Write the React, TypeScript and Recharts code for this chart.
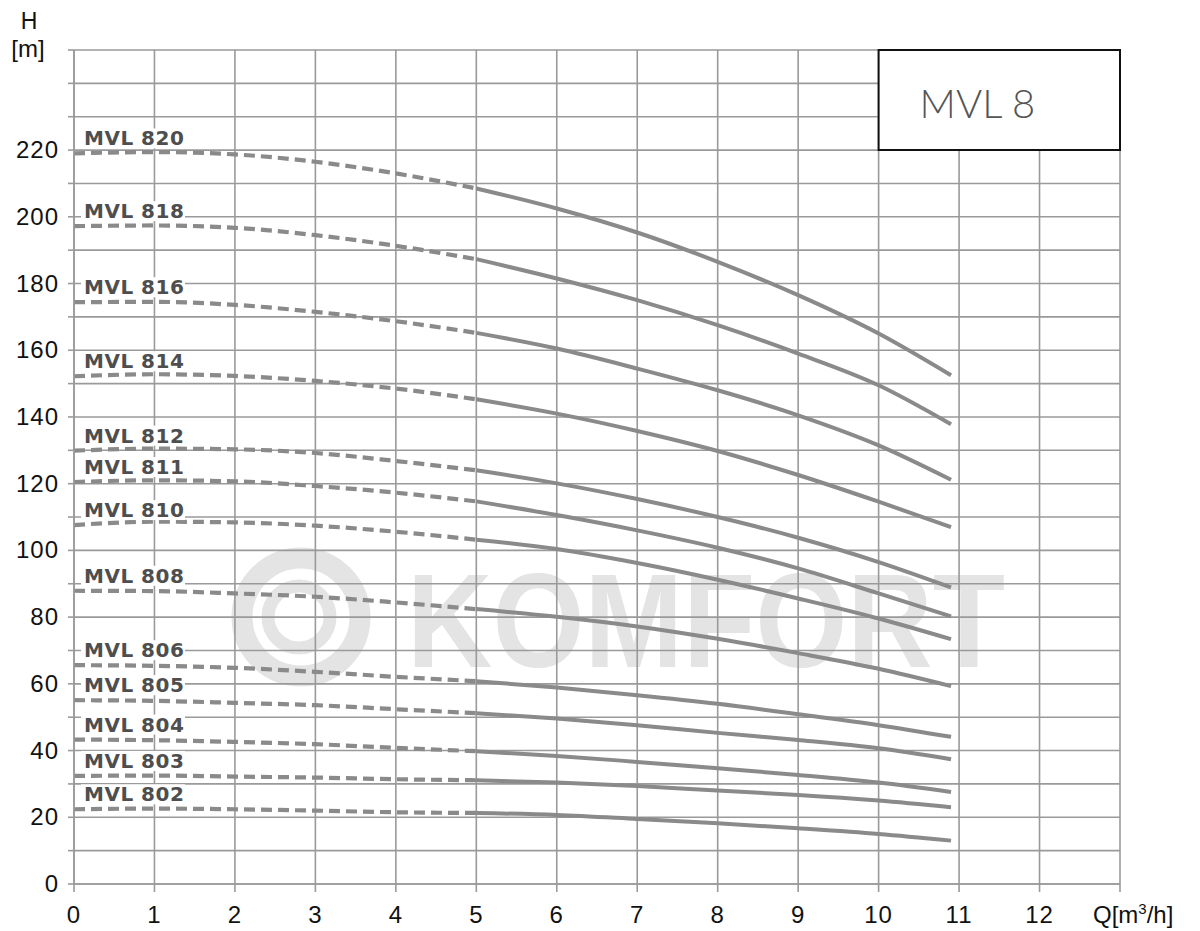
import React from "react"
import { CartesianGrid, LabelList, Line, LineChart, ReferenceArea, XAxis, YAxis } from "recharts"

// flow points [m3/h]: dashed part (outside working range) and solid part
const qDashed = [0, 1, 2, 3, 4, 5]
const qSolid = [5, 6, 7, 8, 9, 10, 10.9]

const pumpNames = ["MVL 820", "MVL 818", "MVL 816", "MVL 814", "MVL 812", "MVL 811", "MVL 810", "MVL 808", "MVL 806", "MVL 805", "MVL 804", "MVL 803", "MVL 802"]

// head H [m]
const mvl820Dashed = [219, 219.4, 218.7, 216.5, 213, 208.5]
const mvl820Solid = [208.5, 202.5, 195.3, 186.5, 176.5, 165, 152.5]
const mvl818Dashed = [197.2, 197.4, 196.7, 194.5, 191.3, 187.3]
const mvl818Solid = [187.3, 181.5, 175, 167.5, 159, 149.5, 137.8]
const mvl816Dashed = [174.4, 174.5, 173.6, 171.5, 168.7, 165.2]
const mvl816Solid = [165.2, 160.5, 154.5, 148, 140.5, 131.5, 121.2]
const mvl814Dashed = [152.2, 152.8, 152.3, 150.8, 148.5, 145.3]
const mvl814Solid = [145.3, 141, 135.8, 129.8, 122.6, 114.6, 107]
const mvl812Dashed = [129.9, 130.5, 130.3, 129.2, 126.8, 124]
const mvl812Solid = [124, 120.1, 115.4, 110, 103.8, 96.5, 88.9]
const mvl811Dashed = [120.5, 121, 120.7, 119.3, 117.3, 114.7]
const mvl811Solid = [114.7, 110.6, 106, 100.8, 94.6, 87.1, 80.2]
const mvl810Dashed = [107.6, 108.6, 108.4, 107.4, 105.6, 103.2]
const mvl810Solid = [103.2, 100.4, 96.2, 91.2, 85.6, 79.6, 73.4]
const mvl808Dashed = [87.9, 87.8, 87.1, 86.1, 84.4, 82.4]
const mvl808Solid = [82.4, 80.1, 77.2, 73.5, 69.2, 64.5, 59.3]
const mvl806Dashed = [65.6, 65.4, 64.8, 63.6, 62.1, 60.8]
const mvl806Solid = [60.8, 58.9, 56.6, 54, 50.9, 47.6, 44.1]
const mvl805Dashed = [55.1, 54.9, 54.3, 53.6, 52.4, 51.2]
const mvl805Solid = [51.2, 49.6, 47.6, 45.3, 43.2, 40.7, 37.4]
const mvl804Dashed = [43.3, 43.1, 42.6, 41.9, 40.8, 39.8]
const mvl804Solid = [39.8, 38.4, 36.6, 34.7, 32.7, 30.4, 27.6]
const mvl803Dashed = [32.4, 32.5, 32.2, 31.9, 31.4, 31.1]
const mvl803Solid = [31.1, 30.4, 29.4, 28, 26.7, 25, 23]
const mvl802Dashed = [22.4, 22.6, 22.4, 22, 21.5, 21.3]
const mvl802Solid = [21.3, 20.7, 19.5, 18.2, 16.7, 15, 13]

const dashedSeries = [mvl820Dashed, mvl818Dashed, mvl816Dashed, mvl814Dashed, mvl812Dashed, mvl811Dashed, mvl810Dashed, mvl808Dashed, mvl806Dashed, mvl805Dashed, mvl804Dashed, mvl803Dashed, mvl802Dashed]
const solidSeries = [mvl820Solid, mvl818Solid, mvl816Solid, mvl814Solid, mvl812Solid, mvl811Solid, mvl810Solid, mvl808Solid, mvl806Solid, mvl805Solid, mvl804Solid, mvl803Solid, mvl802Solid]

const xTicks = [0, 1, 2, 3, 4, 5, 6, 7, 8, 9, 10, 11, 12, 13]
const yTicks = [0, 10, 20, 30, 40, 50, 60, 70, 80, 90, 100, 110, 120, 130, 140, 150, 160, 170, 180, 190, 200, 210, 220, 230, 240, 250]

const allQ = Array.from(new Set([...qDashed, ...qSolid])).sort((a, b) => a - b)
const rows = allQ.map((q) => {
    const row: Record<string, number> = { q }
    pumpNames.forEach((_, i) => {
        const di = qDashed.indexOf(q)
        const si = qSolid.indexOf(q)
        if (di >= 0) row["d" + i] = dashedSeries[i][di]
        if (si >= 0) row["s" + i] = solidSeries[i][si]
    })
    return row
})

const GRID = "#9a9a9a"
const CURVE = "#8a8a8a"
const AXIS_FONT = "'Liberation Sans', Arial, sans-serif"

const YTick = (props: any) => {
    const v = props.payload.value
    if (v % 20 !== 0 || v > 220) return null
    return (
        <text x={59} y={props.y} dy={8} textAnchor="end" fontFamily={AXIS_FONT} fontSize={24} letterSpacing={1} fill="#111">
            {v}
        </text>
    )
}

const XTick = (props: any) => {
    const v = props.payload.value
    if (v === 13) {
        return (
            <text x={props.x - 27} y={923} textAnchor="start" fontFamily={AXIS_FONT} fontSize={24} fill="#111">
                Q[m<tspan dy={-9} fontSize={15}>3</tspan><tspan dy={9}>/h]</tspan>
            </text>
        )
    }
    return (
        <text x={props.x} y={923} textAnchor="middle" fontFamily={AXIS_FONT} fontSize={24} letterSpacing={1} fill="#111">
            {v}
        </text>
    )
}

const pumpLabel = (name: string) => (props: any) => {
    if (props.index !== 0) return null
    const x = Number(props.x) + 10
    const y = Number(props.y) - 8
    return (
        <g>
            <rect x={x - 3} y={y - 17} width={104} height={20} fill="#fff" />
            <text x={x} y={y} fontFamily="'DejaVu Sans', sans-serif" fontWeight="bold" fontSize={20} letterSpacing={0.5} fill="#4e4e4e">
                {name}
            </text>
        </g>
    )
}

const boxLabel = (props: any) => {
    const vb = props.viewBox || {}
    return (
        <text x={vb.x + 41} y={vb.y + 68} fontFamily="Lato, 'Open Sans', sans-serif" fontWeight={300} fontSize={40} fill="#555">
            MVL 8
        </text>
    )
}

function Backdrop() {
    return (
        <svg width={1200} height={931} style={{ position: "absolute", left: 0, top: 0 }}>
            <text x={29} y={29} textAnchor="middle" fontFamily={AXIS_FONT} fontSize={23} fill="#111">H</text>
            <text x={28} y={57} textAnchor="middle" fontFamily={AXIS_FONT} fontSize={24} fill="#111">[m]</text>
            <circle cx={301} cy={617} r={59} fill="none" stroke="#e4e4e4" strokeWidth={21} />
            <circle cx={299} cy={617} r={31} fill="none" stroke="#e4e4e4" strokeWidth={13} />
            <text x={407} y={667} textLength={598} lengthAdjust="spacingAndGlyphs" fontFamily={AXIS_FONT} fontWeight="bold" fontSize={134} fill="#e4e4e4">
                KOMFORT
            </text>
        </svg>
    )
}

export default function App() {
    return (
        <div style={{ position: "absolute", left: 0, top: 0, width: 1200, height: 931, background: "#fff" }}>
            <Backdrop />
            <div style={{ position: "absolute", left: 0, top: 0 }}>
                <LineChart width={1200} height={931} data={rows} margin={{ top: 50, right: 80, left: 0, bottom: 0 }}>
                    <CartesianGrid stroke={GRID} strokeWidth={1.6} />
                    <XAxis dataKey="q" type="number" domain={[0, 13]} ticks={xTicks} height={47} tickSize={8} stroke={GRID} strokeWidth={1.6} tick={<XTick />} interval={0} />
                    <YAxis type="number" domain={[0, 250]} ticks={yTicks} width={74} tickSize={6} stroke={GRID} strokeWidth={1.6} tick={<YTick />} interval={0} />
                    <ReferenceArea x1={10} x2={13} y1={220} y2={250} fill="#fff" fillOpacity={1} stroke="#111" strokeWidth={2} label={boxLabel} />
                    {pumpNames.map((name, i) => (
                        <Line key={"d" + i} dataKey={"d" + i} type="monotone" stroke={CURVE} strokeWidth={4.2} strokeDasharray="11 6" dot={false} activeDot={false} isAnimationActive={false}>
                            <LabelList dataKey={"d" + i} content={pumpLabel(name)} />
                        </Line>
                    ))}
                    {pumpNames.map((name, i) => (
                        <Line key={"s" + i} dataKey={"s" + i} type="monotone" stroke={CURVE} strokeWidth={4} dot={false} activeDot={false} isAnimationActive={false} />
                    ))}
                </LineChart>
            </div>
        </div>
    )
}
